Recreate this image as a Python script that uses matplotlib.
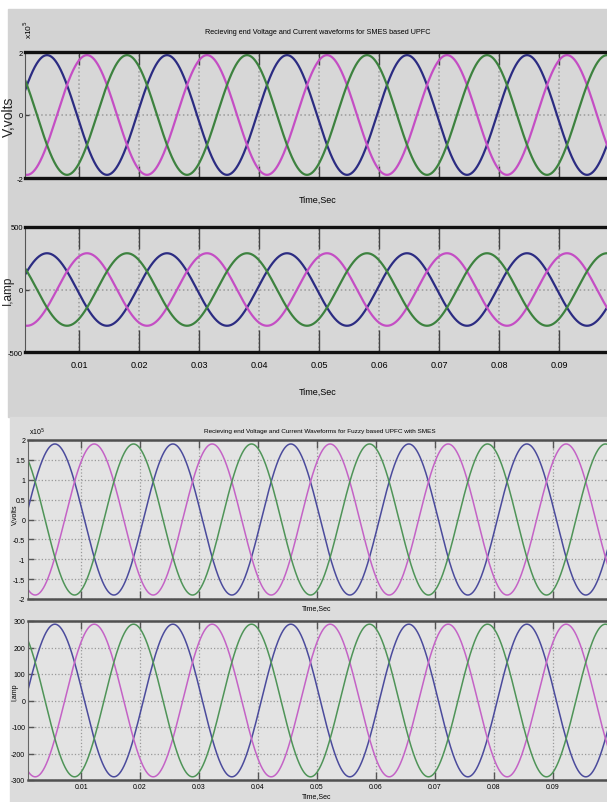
import numpy as np
import matplotlib
matplotlib.use('Agg')
import matplotlib.pyplot as plt
from matplotlib.patches import Rectangle

# picture size in pixels
W, H = 607, 803

# waveform parameters (50 Hz, three phases)
freq = 50.0
t_start, t_end = 0.001, 0.1
xticks = [0.01, 0.02, 0.03, 0.04, 0.05, 0.06, 0.07, 0.08, 0.09]
xtick_labels = ['0.01', '0.02', '0.03', '0.04', '0.05', '0.06', '0.07', '0.08', '0.09']

# top figure: SMES based UPFC
top_v_amp = 1.9          # x10^5 volts
top_i_amp = 290.0        # amps
top_phases = [6, -114, 126]      # blue, magenta, green (degrees)
top_colors = ['#2c2c82', '#c44ec4', '#3d823f']

# bottom figure: fuzzy based UPFC with SMES
bot_v_amp = 1.9          # x10^5 volts
bot_i_amp = 288.0        # amps
bot_phases = [-10, -130, 110]
bot_colors = ['#4b4b9c', '#c463c6', '#4f9458']

top_v_ticks = [-2, 0, 2]
top_i_ticks = [-500, 0, 500]
bot_v_ticks = [-2, -1.5, -1, -0.5, 0, 0.5, 1, 1.5, 2]
bot_v_labels = ['-2', '-1.5', '-1', '-0.5', '0', '0.5', '1', '1.5', '2']
bot_i_ticks = [-300, -200, -100, 0, 100, 200, 300]

NARROW = ['Liberation Sans Narrow', 'Liberation Sans', 'DejaVu Sans']

t = np.linspace(t_start, t_end, 4000)
w = 2 * np.pi * freq


def box(l, top, r, b):
    # pixel box -> figure fraction rect
    return [l / W, 1 - b / H, (r - l) / W, (b - top) / H]


def px(x, y):
    return x / W, 1 - y / H


fig = plt.figure(figsize=(W / 100, H / 100), dpi=100, facecolor='white')

# the two screenshots' grey backgrounds
fig.add_artist(Rectangle((8 / W, 1 - 418 / H), (W - 8) / W, (418 - 10) / H,
                         transform=fig.transFigure, color='#d3d3d3', zorder=0))
fig.add_artist(Rectangle((10 / W, 0), (W - 10) / W, (803 - 418) / H,
                         transform=fig.transFigure, color='#dcdcdc', zorder=0))


def waves(ax, amp, phases, colors, lw):
    for ph, col in zip(phases, colors):
        ax.plot(t, amp * np.sin(w * t + np.deg2rad(ph)), color=col, lw=lw)
    ax.set_xlim(t_start, t_end)
    ax.set_xticks(xticks)


def style_top(ax, ylim, yticks, ticklen):
    ax.set_facecolor('#d7d7d7')
    ax.set_ylim(ylim)
    ax.set_yticks(yticks)
    ax.set_yticklabels([str(v) for v in yticks], fontsize=5.5, family=NARROW)
    ax.tick_params(axis='x', direction='in', top=True, length=ticklen, width=1,
                   color='#444444')
    ax.tick_params(axis='y', direction='in', right=True, length=3, width=1,
                   color='#444444', pad=1.5)
    ax.grid(True, ls=':', color='#9a9a9a', lw=1.1)
    for s in ['top', 'bottom']:
        ax.spines[s].set_linewidth(2.4)
        ax.spines[s].set_color('#111111')
    ax.spines['left'].set_color('#555555')
    ax.spines['right'].set_color('#555555')


def style_bot(ax, ylim, yticks, ylabels):
    ax.set_facecolor('#e3e3e3')
    ax.set_ylim(ylim)
    ax.set_yticks(yticks)
    ax.set_yticklabels(ylabels, fontsize=5, family=NARROW)
    ax.tick_params(axis='x', direction='in', top=True, length=6, width=1,
                   color='#555555')
    ax.tick_params(axis='y', direction='in', right=True, length=4, width=1,
                   color='#555555', pad=2)
    ax.grid(True, ls=':', color='#9a9a9a', lw=0.9)
    for s in ['top', 'bottom']:
        ax.spines[s].set_linewidth(1.8)
        ax.spines[s].set_color('#505050')
    ax.spines['left'].set_color('#666666')
    ax.spines['right'].set_color('#666666')


# ---- top figure ----
a1 = fig.add_axes(box(25, 53, 619, 179))
waves(a1, top_v_amp, top_phases, top_colors, 1.6)
style_top(a1, (-2, 2), top_v_ticks, 9)
a1.set_xticklabels([])

a2 = fig.add_axes(box(25, 228, 619, 353))
waves(a2, top_i_amp, top_phases, top_colors, 1.6)
style_top(a2, (-500, 500), top_i_ticks, 16)
a2.set_xticklabels(xtick_labels, fontsize=6.5, family=NARROW)
a2.tick_params(axis='x', pad=6)

fig.text(*px(318, 33), 'Recieving end Voltage and Current waveforms for SMES based UPFC',
         fontsize=5.2, family=NARROW, ha='center', va='center')
fig.text(*px(28, 30), r'x10$^5$', fontsize=6, family=NARROW, rotation=90,
         ha='center', va='center')
fig.text(*px(318, 200), 'Time,Sec', fontsize=6.5, family=NARROW, ha='center', va='center')
fig.text(*px(318, 392), 'Time,Sec', fontsize=6.5, family=NARROW, ha='center', va='center')
fig.text(*px(9, 117), 'V,volts', fontsize=10, family=NARROW, rotation=90,
         ha='center', va='center', color='#222222')
fig.text(*px(8, 290), 'I,amp', fontsize=8.5, family=NARROW, rotation=90,
         ha='center', va='center', color='#222222')

# ---- bottom figure ----
b1 = fig.add_axes(box(28, 441, 612, 600))
waves(b1, bot_v_amp, bot_phases, bot_colors, 1.1)
style_bot(b1, (-2, 2), bot_v_ticks, bot_v_labels)
b1.set_xticklabels([])

b2 = fig.add_axes(box(28, 622, 612, 781))
waves(b2, bot_i_amp, bot_phases, bot_colors, 1.1)
style_bot(b2, (-300, 300), bot_i_ticks, [str(v) for v in bot_i_ticks])
b2.set_xticklabels(xtick_labels, fontsize=5, family=NARROW)
b2.tick_params(axis='x', pad=2)

fig.text(*px(320, 432), 'Recieving end Voltage and Current Waveforms for Fuzzy based UPFC with SMES',
         fontsize=4.6, family=NARROW, ha='center', va='center')
fig.text(*px(37, 432), r'x10$^5$', fontsize=5, family=NARROW, ha='center', va='center')
fig.text(*px(317, 609), 'Time,Sec', fontsize=5, family=NARROW, ha='center', va='center')
fig.text(*px(317, 797), 'Time,Sec', fontsize=5, family=NARROW, ha='center', va='center')
fig.text(*px(15, 515), 'V,volts', fontsize=5, family=NARROW, rotation=90,
         ha='center', va='center')
fig.text(*px(15, 692), 'I,amp', fontsize=5, family=NARROW, rotation=90,
         ha='center', va='center')

fig.savefig('out.png', dpi=100, facecolor='white')
